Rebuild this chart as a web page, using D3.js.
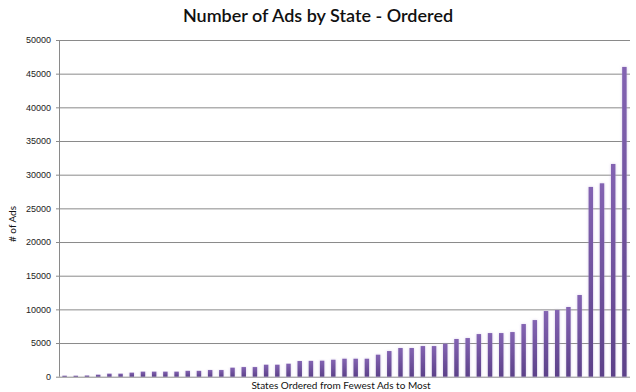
<!DOCTYPE html>
<html>
<head>
<meta charset="utf-8">
<script src="https://cdn.jsdelivr.net/npm/d3@7"></script>
<style>
  html, body { margin: 0; padding: 0; background: #fff; }
  svg { display: block; }
</style>
</head>
<body>
<svg id="chart" width="636" height="392"></svg>
<script>
// ---- Data ----
const ranks = d3.range(1, 52).map(String); // 51 states ordered from fewest to most
const ads = [
  150, 150, 180, 300, 450, 450, 600, 750, 750, 750,
  750, 870, 870, 990, 990, 1340, 1430, 1430, 1780, 1780,
  1930, 2330, 2350, 2380, 2520, 2670, 2670, 2670, 3270, 3810,
  4260, 4260, 4550, 4550, 4900, 5600, 5740, 6330, 6480, 6480,
  6630, 7820, 8410, 9750, 9900, 10350, 12130, 28180, 28720, 31590,
  46000
];
const yTicks = [0, 5000, 10000, 15000, 20000, 25000, 30000, 35000, 40000, 45000, 50000];
const titleText = "Number of Ads by State - Ordered";
const xTitle = "States Ordered from Fewest Ads to Most";
const yTitle = "# of Ads";

// ---- Layout ----
const svg = d3.select("#chart");
const margin = { left: 59, right: 6, top: 40, bottom: 15.3 };
const W = 636, H = 392;
const x = d3.scaleBand().domain(ranks).range([margin.left, W - margin.right]).paddingInner(0.6).paddingOuter(0.3);
const y = d3.scaleLinear().domain([0, 50000]).range([H - margin.bottom, margin.top]);

const defs = svg.append("defs");
const grad = defs.append("linearGradient").attr("id", "barGrad")
  .attr("x1", 0).attr("y1", 0).attr("x2", 0).attr("y2", 1);
grad.append("stop").attr("offset", "0%").attr("stop-color", "#8363b2");
grad.append("stop").attr("offset", "100%").attr("stop-color", "#5c4189");
const glow = defs.append("filter").attr("id", "glow")
  .attr("x", "-100%").attr("y", "-5%").attr("width", "300%").attr("height", "110%");
glow.append("feDropShadow").attr("dx", 0).attr("dy", 0).attr("stdDeviation", 1.4)
  .attr("flood-color", "#b9a5d8").attr("flood-opacity", 0.55);

// Gridlines + y axis
const yAxis = d3.axisLeft(y).tickValues(yTicks).tickSize(-(W - margin.right - margin.left)).tickSizeOuter(0)
  .tickPadding(8).tickFormat(d3.format("d"));
const gy = svg.append("g").attr("transform", `translate(${margin.left},0)`).call(yAxis);
gy.select(".domain").remove();
gy.selectAll(".tick line").attr("stroke", "#8a8a8a").attr("stroke-width", 1)
  .attr("x1", -3);
gy.selectAll(".tick text").attr("font-family", "'Liberation Sans', Arial, sans-serif")
  .attr("font-size", 9).attr("fill", "#222");
svg.append("line").attr("x1", margin.left + 0.5).attr("x2", margin.left + 0.5)
  .attr("y1", y(50000)).attr("y2", y(0)).attr("stroke", "#8a8a8a");

// Bars
svg.append("g").selectAll("rect").data(ads).join("rect")
  .attr("x", (d, i) => x(ranks[i]))
  .attr("width", x.bandwidth())
  .attr("y", d => y(d))
  .attr("height", d => y(0) - y(d))
  .attr("fill", "url(#barGrad)")
  .attr("filter", "url(#glow)");

// Titles
svg.append("text").attr("x", 318).attr("y", 22).attr("text-anchor", "middle")
  .attr("font-family", "Lato, 'Open Sans', sans-serif").attr("font-size", 18).attr("font-weight", 600)
  .attr("fill", "#111").text(titleText);
svg.append("text").attr("x", 341).attr("y", 389).attr("text-anchor", "middle")
  .attr("font-family", "Lato, 'Open Sans', sans-serif").attr("font-size", 10)
  .attr("fill", "#111").text(xTitle);
svg.append("text").attr("transform", "translate(16,224) rotate(-90)").attr("text-anchor", "middle")
  .attr("font-family", "Lato, 'Open Sans', sans-serif").attr("font-size", 10)
  .attr("fill", "#111").text(yTitle);
</script>
</body>
</html>
